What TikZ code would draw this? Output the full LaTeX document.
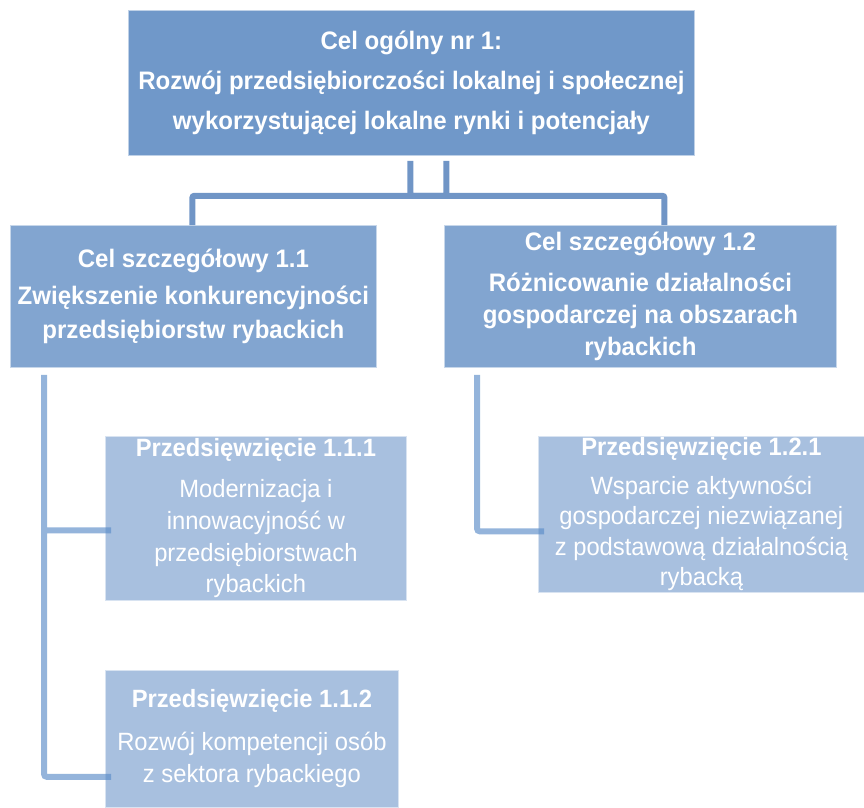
\documentclass[tikz,border=0pt]{standalone}
\usepackage{fontspec}
\setmainfont[FakeStretch=0.95]{Liberation Sans}
\usetikzlibrary{calc}
\definecolor{goalblue}{RGB}{112,152,201}
\definecolor{aimblue}{RGB}{130,165,208}
\definecolor{taskblue}{RGB}{168,192,223}
\definecolor{linkblue}{RGB}{112,149,198}
\definecolor{leafline}{RGB}{90,140,200}
\tikzset{
	box/.style={rectangle, anchor=north west, inner sep=0pt, align=center, text=white, fill=#1, draw=white!55!#1, line width=0.8pt},
	toplink/.style={draw=linkblue, line width=6pt, rounded corners=2pt},
	leaflink/.style={draw=leafline, draw opacity=0.65, line width=6pt, rounded corners=3pt}
}

\begin{document}
\begin{tikzpicture}[x=1pt, y=-1pt]
			%%%%% START %%%%%
			\useasboundingbox (0,0) rectangle (864,807);
			
			\node[box=goalblue, minimum width=566, minimum height=145, font=\fontsize{25.3}{40}\selectfont\bfseries] (goal) at (128,10)
				{Cel ogólny nr 1:\\Rozwój przedsiębiorczości lokalnej i społecznej\\wykorzystującej lokalne rynki i potencjały};
			
			\node[box=aimblue, minimum width=366, minimum height=142, font=\fontsize{25.3}{34}\selectfont\bfseries] (aim1) at (10,225)
				{Cel szczegółowy 1.1\\[3pt]Zwiększenie konkurencyjności\\przedsiębiorstw rybackich};
			\node[box=aimblue, minimum width=392, minimum height=142, font=\fontsize{25.3}{32}\selectfont\bfseries] (aim2) at (444,225)
				{Cel szczegółowy 1.2\\[9pt]Różnicowanie działalności\\gospodarczej na obszarach\\rybackich};
			
			\node[box=taskblue, minimum width=301, minimum height=164, font=\fontsize{25}{31.7}\selectfont] (task111) at (105,436)
				{\textbf{Przedsięwzięcie 1.1.1}\\[9pt]Modernizacja i\\innowacyjność w\\przedsiębiorstwach\\rybackich};
			\node[box=taskblue, minimum width=293, minimum height=137, font=\fontsize{25}{32}\selectfont] (task112) at (105,670)
				{\textbf{Przedsięwzięcie 1.1.2}\\[11pt]Rozwój kompetencji osób\\z sektora rybackiego};
			\node[box=taskblue, minimum width=326, minimum height=156, font=\fontsize{25}{30.5}\selectfont] (task121) at (538,436)
				{\textbf{Przedsięwzięcie 1.2.1}\\[8pt]Wsparcie aktywności\\gospodarczej niezwiązanej\\z podstawową działalnością\\rybacką};
			
			% links from the main goal
			\coordinate (j1) at ([xshift=-1pt]aim1.north);
			\coordinate (j2) at ([xshift=24pt]aim2.north);
			\draw[toplink] ([xshift=35pt,yshift=-5pt]goal.south) -- ++(0,35) -| (j1);
			\draw[toplink] ([xshift=-1pt,yshift=-5pt]goal.south) -- ++(0,35) -| (j2);
			
			% links to the tasks
			\coordinate (spine1) at ([xshift=34pt,yshift=-7pt]aim1.south west);
			\coordinate (spine2) at ([xshift=33pt,yshift=-7pt]aim2.south west);
			\coordinate (e111) at ([xshift=6pt,yshift=-12pt]task111.west);
			\coordinate (e112) at ([xshift=6pt,yshift=-38pt]task112.west);
			\coordinate (e121) at ([xshift=6pt,yshift=-17pt]task121.west);
			\draw[leaflink] (spine1) |- (e112) (spine1 |- e111) -- (e111);
			\draw[leaflink] (spine2) |- (e121);
			
			%%%%% END %%%%%
\end{tikzpicture}
\end{document}
